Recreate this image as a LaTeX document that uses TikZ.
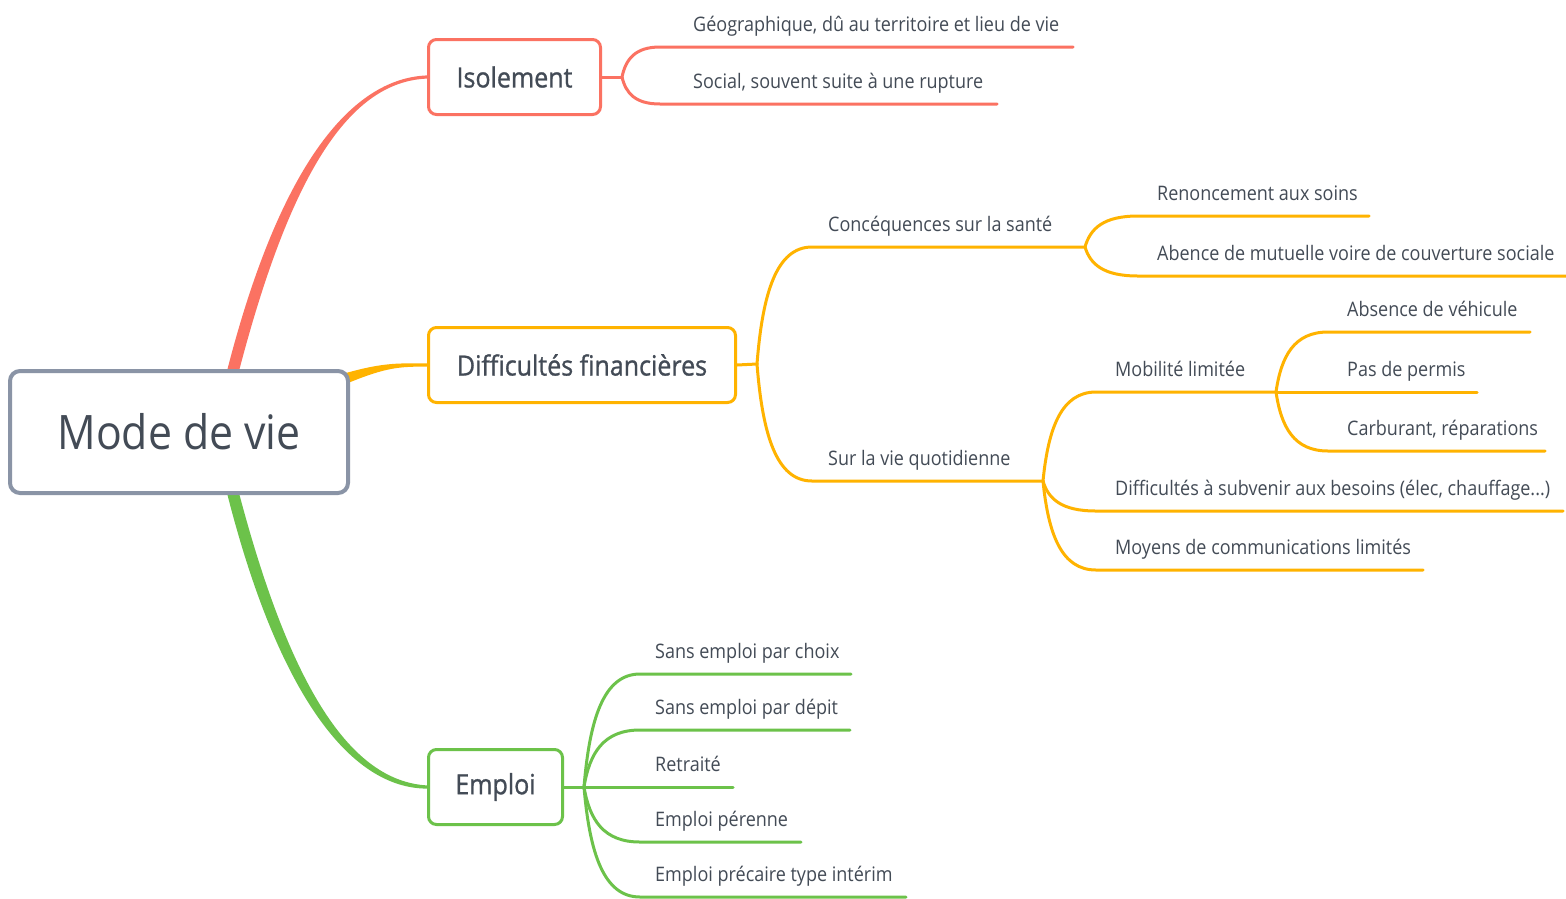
\documentclass[tikz,border=0pt]{standalone}
\usepackage{fontspec}
\setmainfont[FakeStretch=0.9]{Open Sans}
\newfontfamily\titlefont[FakeStretch=0.9,FakeBold=1]{Open Sans}
\usetikzlibrary{calc}
\definecolor{cred}{HTML}{FB7262}
\definecolor{corg}{HTML}{FFB300}
\definecolor{cgrn}{HTML}{6CC24A}
\definecolor{cgry}{HTML}{8A94A6}
\definecolor{ctxt}{HTML}{434B56}
\pgfdeclarelayer{bg}
\pgfsetlayers{bg,main}
\newcommand{\fk}[4]{%
  \draw[br,#4] let \p1=(#1), \p2=(#2) in (#1) .. controls ({\x1+0.1*(\x2-\x1)},{0.4*\y1+0.6*\y2}) and ({\x1+0.35*(\x2-\x1)},\y2) .. (#2) -- (#3);}
\begin{document}
\begin{tikzpicture}[x=1pt,y=-1pt,
  topic/.style={draw, rounded corners=8pt, line width=3pt, fill=white, text=ctxt,
    font=\titlefont\fontsize{27.8}{32}\selectfont, minimum height=75pt, inner sep=0pt},
  leaf/.style={anchor=base west, inner sep=0pt, text=ctxt, font=\fontsize{20}{24}\selectfont},
  br/.style={line width=3pt, line cap=round}]
\useasboundingbox (0,0) rectangle (1566,898);
% main topics
\node[draw=cgry, line width=4pt, rounded corners=10pt, fill=white, minimum width=338pt,
  minimum height=122pt, inner sep=0pt, text=ctxt, font=\fontsize{47.5}{56}\selectfont] (root) at (179,432) {Mode de vie};
\node[topic, draw=cred, minimum width=172pt] (iso) at (514.5,77) {Isolement};
\node[topic, draw=corg, minimum width=307pt] (dif) at (582,365) {Difficultés financières};
\node[topic, draw=cgrn, minimum width=134pt] (emp) at (495.5,787) {Emploi};
% coordinates
\coordinate (isoF) at (622,77);
\coordinate (g1s) at (660,47); \coordinate (g1e) at (1073,47);
\coordinate (s1s) at (660,104); \coordinate (s1e) at (997,104);
\coordinate (difF) at (757,364);
\coordinate (cS) at (812,247); \coordinate (cE) at (1085,247);
\coordinate (vS) at (812,481); \coordinate (vE) at (1043,481);
\coordinate (rS) at (1138,216); \coordinate (rE) at (1369,216);
\coordinate (aS) at (1138,276); \coordinate (aE) at (1566,276);
\coordinate (mS) at (1096,392); \coordinate (mE) at (1276,392);
\coordinate (dS) at (1096,511); \coordinate (dE) at (1563,511);
\coordinate (oS) at (1096,570); \coordinate (oE) at (1423,570);
\coordinate (abS) at (1328,332); \coordinate (abE) at (1530,332);
\coordinate (pE) at (1477,392);
\coordinate (caS) at (1328,451); \coordinate (caE) at (1545,451);
\coordinate (empF) at (584,787);
\coordinate (e1S) at (640,674); \coordinate (e1E) at (851,674);
\coordinate (e2S) at (640,730); \coordinate (e2E) at (850,730);
\coordinate (e3E) at (733,787);
\coordinate (e4S) at (640,842); \coordinate (e4E) at (801,842);
\coordinate (e5S) at (640,897); \coordinate (e5E) at (906,897);
% leaf labels
\node[leaf] (tgeo) at (693,31.5) {Géographique, dû au territoire et lieu de vie};
\node[leaf] (tsoc) at (693,88.5) {Social, souvent suite à une rupture};
\node[leaf] (tcon) at (828,231.5) {Concéquences sur la santé};
\node[leaf] (tvie) at (828,465.5) {Sur la vie quotidienne};
\node[leaf] (tren) at (1157,200.5) {Renoncement aux soins};
\node[leaf] (tabe) at (1157,260.5) {Abence de mutuelle voire de couverture sociale};
\node[leaf] (tmob) at (1115,376.5) {Mobilité limitée};
\node[leaf] (tdif) at (1115,495.5) {Difficultés à subvenir aux besoins (élec, chauffage...)};
\node[leaf] (tmoy) at (1115,554.5) {Moyens de communications limités};
\node[leaf] (tabs) at (1347,316.5) {Absence de véhicule};
\node[leaf] (tpas) at (1347,376.5) {Pas de permis};
\node[leaf] (tcar) at (1347,435.5) {Carburant, réparations};
\node[leaf] (te1) at (655,658.5) {Sans emploi par choix};
\node[leaf] (te2) at (655,714.5) {Sans emploi par dépit};
\node[leaf] (te3) at (655,771.5) {Retraité};
\node[leaf] (te4) at (655,826.5) {Emploi pérenne};
\node[leaf] (te5) at (655,881.5) {Emploi précaire type intérim};
% connectors
\begin{pgfonlayer}{bg}
\fill[white] (0,0) rectangle (1566,898);
\fill[cred] ($(root.north)+(48,2)$) .. controls (279,168) and (350,78.4) .. ($(iso.west)+(0,-1.6)$)
  -- ($(iso.west)+(0,1.6)$) .. controls (350,81.6) and (291,172) .. ($(root.north)+(60,2)$) -- cycle;
\fill[cgrn] ($(root.south)+(48,-2)$) .. controls (278,694) and (350,788.4) .. ($(emp.west)+(0,1.6)$)
  -- ($(emp.west)+(0,-1.6)$) .. controls (350,781) and (290,686) .. ($(root.south)+(60,-2)$) -- cycle;
\fill[corg] ($(root.east)+(-4,-59)$) .. controls (385,362) and (400,363.4) .. ($(dif.west)+(0,-1.6)$)
  -- ($(dif.west)+(0,1.6)$) .. controls (400,366.6) and (387,367) .. ($(root.east)+(-2,-49)$) -- cycle;
\draw[br,cred] (iso.east) -- (isoF);
\draw[br,corg] (dif.east) -- (difF);
\draw[br,cgrn] (emp.east) -- (empF);
\end{pgfonlayer}
\fk{isoF}{g1s}{g1e}{cred}
\fk{isoF}{s1s}{s1e}{cred}
\fk{difF}{cS}{cE}{corg}
\fk{difF}{vS}{vE}{corg}
\fk{cE}{rS}{rE}{corg}
\fk{cE}{aS}{aE}{corg}
\fk{vE}{mS}{mE}{corg}
\fk{vE}{dS}{dE}{corg}
\fk{vE}{oS}{oE}{corg}
\fk{mE}{abS}{abE}{corg}
\draw[br,corg] (mE) -- (pE);
\fk{mE}{caS}{caE}{corg}
\fk{empF}{e1S}{e1E}{cgrn}
\fk{empF}{e2S}{e2E}{cgrn}
\draw[br,cgrn] (empF) -- (e3E);
\fk{empF}{e4S}{e4E}{cgrn}
\fk{empF}{e5S}{e5E}{cgrn}
\end{tikzpicture}
\end{document}
